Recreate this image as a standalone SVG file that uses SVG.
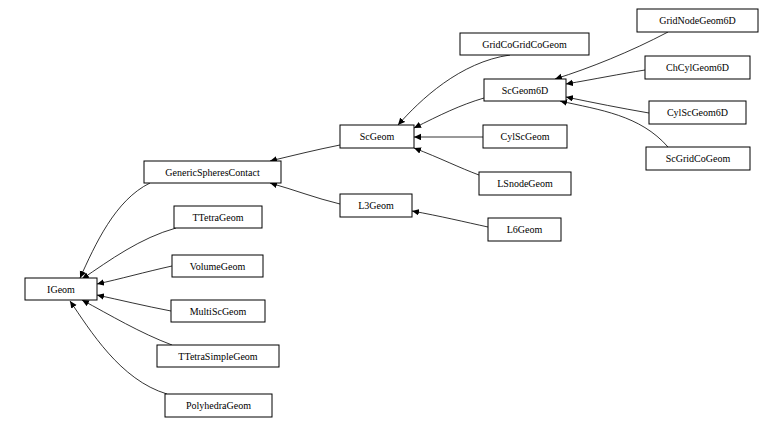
<svg xmlns="http://www.w3.org/2000/svg" width="784" height="427" viewBox="0 0 784 427">
<style>
.n rect{fill:#fff;stroke:#000;stroke-width:1}
.n text{font-family:"Liberation Serif",serif;font-size:10px;text-anchor:middle;fill:#000}
.e path{fill:none;stroke:#000;stroke-width:0.8;marker-end:url(#a)}
</style>
<defs><marker id="a" markerWidth="8" markerHeight="7" refX="7" refY="3.25" orient="auto" markerUnits="userSpaceOnUse"><path d="M0,0 L7,3.25 L0,6.5 Z" fill="#000"/></marker></defs>
<rect width="784" height="427" fill="#fff"/>
<g class="e">
<path d="M150,183 C115,200 95,245 80,278"/>
<path d="M176,228 C140,238 110,260 82,279"/>
<path d="M172,266 C145,272 120,279 97,284"/>
<path d="M171,311 C145,306 120,300 97,295"/>
<path d="M172,345 C140,333 110,315 82,300"/>
<path d="M167,394 C120,380 90,330 70,301"/>
<path d="M340,145 C315,150 295,155 270,161"/>
<path d="M340,204 C315,198 295,190 270,183"/>
<path d="M510,55 C460,62 420,100 398,125"/>
<path d="M484,98 C460,105 440,115 414,128"/>
<path d="M483,137 L414,137"/>
<path d="M479,175 C460,168 440,158 414,148"/>
<path d="M488,227 C465,222 440,216 412,211"/>
<path d="M668,32 C630,52 590,68 555,79"/>
<path d="M645,70 C620,74 595,79 566,84"/>
<path d="M649,113 C620,108 595,103 566,97"/>
<path d="M668,147 C640,115 600,110 560,101"/>
</g>
<g class="n" id="IGeom"><rect x="25" y="278" width="72" height="22"/><text x="61" y="293">IGeom</text></g>
<g class="n" id="GenericSpheresContact"><rect x="144" y="161" width="137" height="22"/><text x="212.5" y="176">GenericSpheresContact</text></g>
<g class="n" id="TTetraGeom"><rect x="174" y="206" width="88" height="22"/><text x="218" y="221">TTetraGeom</text></g>
<g class="n" id="VolumeGeom"><rect x="172" y="255" width="91" height="22"/><text x="217.5" y="270">VolumeGeom</text></g>
<g class="n" id="MultiScGeom"><rect x="171" y="300" width="94" height="22"/><text x="218" y="315">MultiScGeom</text></g>
<g class="n" id="TTetraSimpleGeom"><rect x="157" y="345" width="122" height="22"/><text x="218" y="360">TTetraSimpleGeom</text></g>
<g class="n" id="PolyhedraGeom"><rect x="165" y="394" width="107" height="23"/><text x="218.5" y="409">PolyhedraGeom</text></g>
<g class="n" id="ScGeom"><rect x="340" y="125" width="74" height="23"/><text x="377" y="140">ScGeom</text></g>
<g class="n" id="L3Geom"><rect x="340" y="194" width="72" height="23"/><text x="376" y="209">L3Geom</text></g>
<g class="n" id="GridCoGridCoGeom"><rect x="460" y="33" width="129" height="22"/><text x="524.5" y="48">GridCoGridCoGeom</text></g>
<g class="n" id="ScGeom6D"><rect x="484" y="79" width="82" height="22"/><text x="525" y="94">ScGeom6D</text></g>
<g class="n" id="CylScGeom"><rect x="483" y="125" width="84" height="23"/><text x="525" y="140">CylScGeom</text></g>
<g class="n" id="LSnodeGeom"><rect x="479" y="172" width="92" height="23"/><text x="525" y="187">LSnodeGeom</text></g>
<g class="n" id="L6Geom"><rect x="488" y="218" width="73" height="23"/><text x="524.5" y="233">L6Geom</text></g>
<g class="n" id="GridNodeGeom6D"><rect x="637" y="9" width="121" height="23"/><text x="697.5" y="24">GridNodeGeom6D</text></g>
<g class="n" id="ChCylGeom6D"><rect x="645" y="56" width="105" height="23"/><text x="697.5" y="71">ChCylGeom6D</text></g>
<g class="n" id="CylScGeom6D"><rect x="649" y="101" width="97" height="23"/><text x="697.5" y="116">CylScGeom6D</text></g>
<g class="n" id="ScGridCoGeom"><rect x="646" y="147" width="104" height="23"/><text x="698" y="162">ScGridCoGeom</text></g>
</svg>
